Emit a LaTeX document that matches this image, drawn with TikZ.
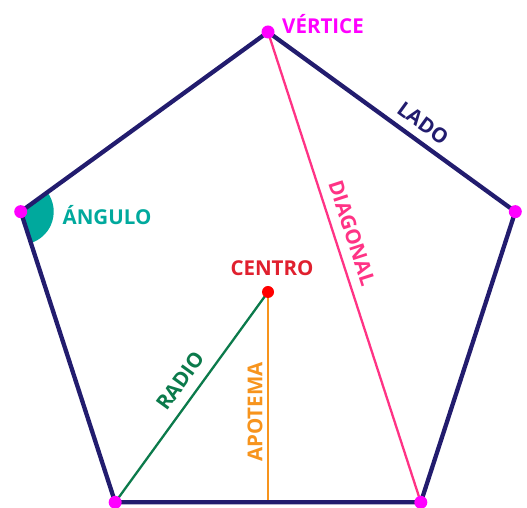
\documentclass[tikz,border=0pt]{standalone}
\usepackage{fontspec}
\setsansfont{Open Sans}
\usepackage{xcolor}
\definecolor{lado}{HTML}{221C6E}
\definecolor{vertice}{HTML}{FF00FF}
\definecolor{angulo}{HTML}{00A99D}
\definecolor{centro}{HTML}{E0202E}
\definecolor{diagonal}{HTML}{FF3385}
\definecolor{radio}{HTML}{0B7A4B}
\definecolor{apotema}{HTML}{F7941D}
\usetikzlibrary{calc}

\begin{document}
\begin{tikzpicture}[
  x=1pt, y=1pt,
  every node/.style={font=\fontsize{20.5}{24}\selectfont\sffamily\bfseries, inner sep=0pt},
  edge/.style={draw=lado, line width=4.3pt, line join=round},
  seg/.style={draw=#1, line width=2.3pt},
  dot/.style={circle, fill=#1, minimum size=13pt, inner sep=0pt},
  lbl/.style={text=#1}
]
  \useasboundingbox (0,0) rectangle (527,508);
  \coordinate (C) at (268,216);
  \coordinate (vtop) at ($(C)+(90:260)$);
  \coordinate (vright) at ($(C)+(18:260)$);
  \coordinate (vbr) at ($(C)+(-54:260)$);
  \coordinate (vbl) at ($(C)+(234:260)$);
  \coordinate (vleft) at ($(C)+(162:260)$);
  \coordinate (M) at ($(vbl)!0.5!(vbr)$);

  % angle
  \fill[angulo] (vleft) -- ++(36:33) arc[start angle=36, end angle=-72, radius=33] -- cycle;

  % diagonal, radius, apothem
  \draw[seg=diagonal] (vtop) -- (vbr);
  \draw[seg=radio] (vbl) -- (C);
  \draw[seg=apotema] (C) -- (M);

  % sides
  \draw[edge] (vtop) -- (vright) -- (vbr) -- (vbl) -- (vleft) -- cycle;

  % points
  \foreach \v in {vtop, vright, vbr, vbl, vleft}
    \node[dot=vertice] at (\v) {};
  \node[dot=red, minimum size=12pt] (centro) at (C) {};

  % labels
  \node[lbl=vertice] (tvertice) at (323,484) {VÉRTICE};
  \node[lbl=angulo] (tangulo) at (107,293) {ÁNGULO};
  \node[lbl=lado, rotate=-36] (tlado) at (423,385) {LADO};
  \node[lbl=diagonal, rotate=-72] (tdiagonal) at (352,275) {DIAGONAL};
  \node[lbl=centro] (tcentro) at (272,240) {CENTRO};
  \node[lbl=radio, rotate=54] (tradio) at (180,127) {RADIO};
  \node[lbl=apotema, rotate=90] (tapotema) at (255,96) {APOTEMA};
\end{tikzpicture}
\end{document}
